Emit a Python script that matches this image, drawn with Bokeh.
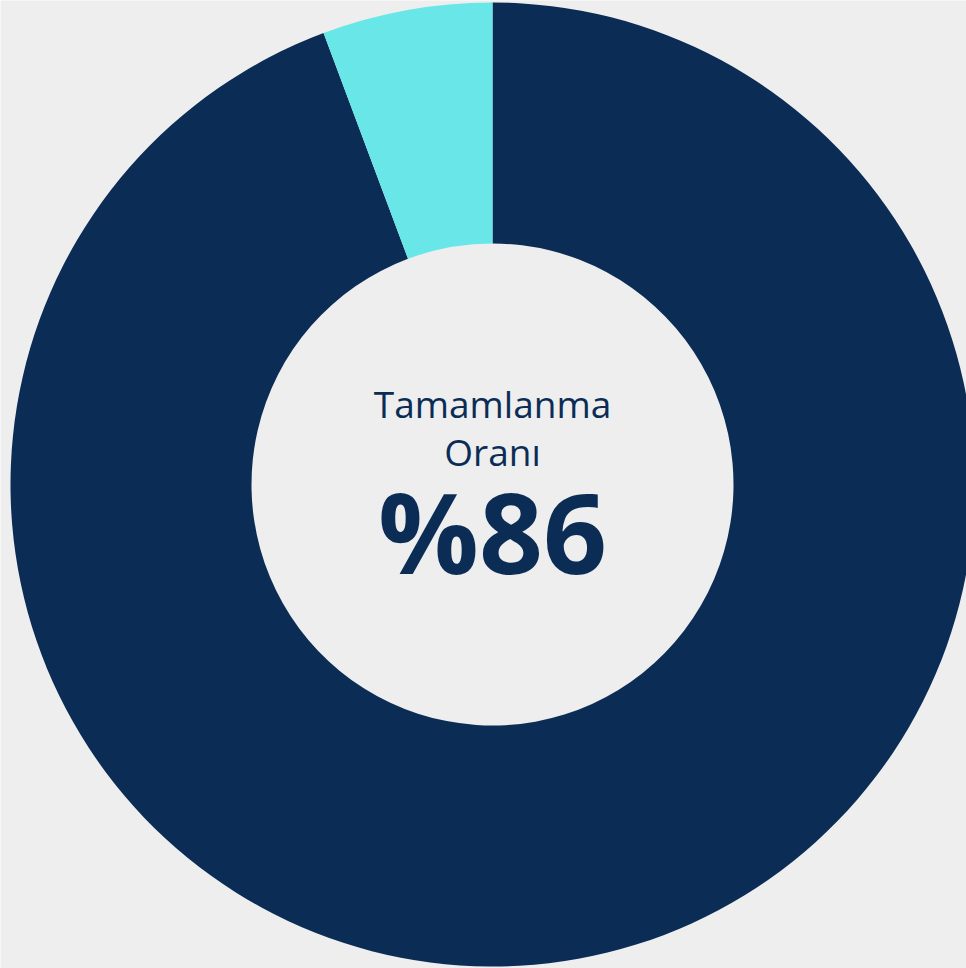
import math
from bokeh.plotting import figure
from bokeh.models import ColumnDataSource, Range1d
from bokeh.core.properties import value
from bokeh.embed import file_html
from bokeh.resources import INLINE

# data
categories = ["Tamamlanan", "Kalan"]
values = [94.3, 5.7]
colors = ["#0A2C55", "#68E6E8"]
title_lines = ["Tamamlanma", "Oranı"]
center_value = "%86"

W, H = 966, 968
cx, cy = 492, H - 484
r_out, r_in = 482, 241

total = sum(values)
starts, ends = [], []
cum = 0.0
for v in values:
    starts.append(math.pi / 2 - cum / total * 2 * math.pi)
    cum += v
    ends.append(math.pi / 2 - cum / total * 2 * math.pi)

src = ColumnDataSource(dict(cat=categories, val=values, start=starts, end=ends, color=colors,
                            x=[cx] * len(values), y=[cy] * len(values)))

p = figure(width=W, height=H, output_backend="svg", toolbar_location=None,
           x_range=Range1d(0, W), y_range=Range1d(0, H), min_border=0)
p.axis.visible = False
p.grid.visible = False
p.outline_line_color = None
p.background_fill_color = "#EEEEEE"
p.border_fill_color = "#EEEEEE"

p.annular_wedge(x="x", y="y", inner_radius=r_in, outer_radius=r_out,
                start_angle="start", end_angle="end", direction="clock",
                fill_color="color", line_color=None, source=src)

navy = "#0A2C55"
p.text(x=[cx], y=[H - 403], text=[title_lines[0]], text_align="center",
       text_baseline="alphabetic", text_font=value("Open Sans"), text_font_size="37px",
       text_color=navy)
p.text(x=[cx], y=[H - 451], text=[title_lines[1]], text_align="center",
       text_baseline="alphabetic", text_font=value("Open Sans"), text_font_size="37px",
       text_color=navy)
p.text(x=[cx], y=[H - 530], text=[center_value], text_align="center",
       text_baseline="alphabetic", text_font=value("Open Sans"), text_font_size="112px",
       text_font_style="bold", text_color=navy)

html = file_html(p, INLINE)
open("out.html", "w").write(html)
